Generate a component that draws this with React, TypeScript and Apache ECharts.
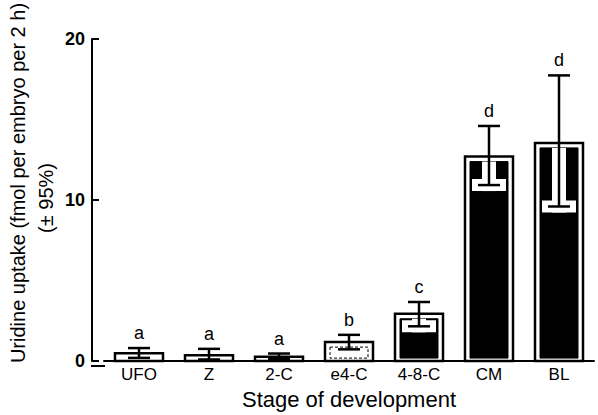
import React, { useEffect, useRef } from "react";
import * as echarts from "echarts";

const categories = ["UFO", "Z", "2-C", "e4-C", "4-8-C", "CM", "BL"];
const means = [0.48, 0.37, 0.27, 1.18, 2.94, 12.7, 13.55];
const upperCI = [0.81, 0.76, 0.47, 1.63, 3.67, 14.6, 17.74];
const lowerCI = [0.2, 0.1, 0.12, 0.73, 2.16, 10.93, 9.6];
const sigLetters = ["a", "a", "a", "b", "c", "d", "d"];
const yTicks = { min: 0, max: 20, interval: 10 };

const FONT = "'Liberation Sans', Arial, Helvetica, sans-serif";

export default function App() {
  const ref = useRef<HTMLDivElement>(null);
  useEffect(() => {
    if (!ref.current) return;
    const chart = echarts.init(ref.current, null, { renderer: "svg" });
    const data = categories.map((_, i) => [i, means[i], upperCI[i], lowerCI[i]]);
    const renderItem = (params: any, api: any) => {
      const idx = api.value(0);
      const mean = api.value(1);
      const up = api.value(2);
      const lo = api.value(3);
      const base = api.coord([idx, 0]);
      const top = api.coord([idx, mean]);
      const upP = api.coord([idx, up]);
      const loP = api.coord([idx, lo]);
      const cx = base[0];
      const barW = 48;
      const x0 = cx - barW / 2;
      const H = base[1] - top[1];
      const capW = 22;
      const children: any[] = [];
      children.push({
        type: "rect",
        shape: { x: x0, y: top[1], width: barW, height: H },
        style: { fill: "#fff", stroke: "#000", lineWidth: 2.5 },
      });
      const inset = 5;
      const innerTop = top[1] + inset;
      const innerBottom = base[1] - 3;
      if (innerBottom - innerTop > 2) {
        const big = H > 30;
        children.push({
          type: "rect",
          shape: { x: x0 + inset, y: innerTop, width: barW - 2 * inset, height: innerBottom - innerTop },
          style: big
            ? { fill: "#000", stroke: "#000", lineWidth: 1 }
            : { fill: "#fff", stroke: "#000", lineWidth: 1, lineDash: [3, 2] },
        });
        if (big) {
          const haloBottom = Math.min(loP[1] + 6, innerBottom);
          const capTop = Math.max(loP[1] - 6, innerTop);
          children.push({
            type: "rect",
            shape: { x: cx - 7, y: innerTop, width: 14, height: Math.max(0, haloBottom - innerTop) },
            style: { fill: "#fff" },
          });
          children.push({
            type: "rect",
            shape: { x: cx - 17, y: capTop, width: 34, height: Math.max(0, haloBottom - capTop) },
            style: { fill: "#fff" },
          });
        }
      }
      children.push({
        type: "line",
        shape: { x1: cx, y1: upP[1], x2: cx, y2: loP[1] },
        style: { stroke: "#000", lineWidth: 2.5 },
      });
      children.push({
        type: "line",
        shape: { x1: cx - capW / 2, y1: upP[1], x2: cx + capW / 2, y2: upP[1] },
        style: { stroke: "#000", lineWidth: 2.5 },
      });
      children.push({
        type: "line",
        shape: { x1: cx - capW / 2, y1: loP[1], x2: cx + capW / 2, y2: loP[1] },
        style: { stroke: "#000", lineWidth: 2.5 },
      });
      children.push({
        type: "text",
        style: {
          text: sigLetters[params.dataIndex],
          x: cx,
          y: upP[1] - 6,
          align: "center",
          verticalAlign: "bottom",
          fontSize: 18,
          fontFamily: FONT,
          fill: "#000",
        },
      });
      return { type: "group", children };
    };

    chart.setOption({
      animation: false,
      backgroundColor: "#fff",
      grid: { left: 104, right: 4, top: 39, bottom: 49, containLabel: false },
      xAxis: {
        type: "category",
        data: categories,
        axisLine: { show: true, lineStyle: { color: "#000", width: 2 } },
        axisTick: { show: false },
        axisLabel: { color: "#000", fontSize: 17, fontFamily: FONT, margin: 5 },
        name: "Stage of development",
        nameLocation: "middle",
        nameGap: 23,
        nameTextStyle: { color: "#000", fontSize: 22, fontFamily: FONT, verticalAlign: "top" },
      },
      yAxis: {
        type: "value",
        min: yTicks.min,
        max: yTicks.max,
        interval: yTicks.interval,
        offset: 12,
        axisLine: { show: true, lineStyle: { color: "#000", width: 2 } },
        axisTick: { show: true, inside: true, length: 7, lineStyle: { color: "#000", width: 2 } },
        axisLabel: { color: "#000", fontSize: 18, fontWeight: "bold", fontFamily: FONT, margin: 7 },
        splitLine: { show: false },
      },
      graphic: [
        {
          type: "line",
          shape: { x1: 91, y1: 366, x2: 105, y2: 366 },
          style: { stroke: "#000", lineWidth: 2 },
        },
        {
          type: "text",
          x: 18,
          y: 183,
          rotation: Math.PI / 2,
          style: {
            text: "Uridine uptake (fmol per embryo per 2 h)",
            align: "center",
            verticalAlign: "middle",
            fontSize: 20,
            fontFamily: FONT,
            fill: "#000",
          },
        },
        {
          type: "text",
          x: 46,
          y: 198,
          rotation: Math.PI / 2,
          style: {
            text: "(± 95%)",
            align: "center",
            verticalAlign: "middle",
            fontSize: 20,
            fontFamily: FONT,
            fill: "#000",
          },
        },
      ],
      series: [
        {
          type: "custom",
          renderItem,
          data,
          encode: { x: 0, y: [1, 2, 3] },
          clip: false,
        },
      ],
    });
    return () => chart.dispose();
  }, []);
  return <div ref={ref} style={{ width: 598, height: 415, position: "absolute", left: 0, top: 0 }} />;
}
